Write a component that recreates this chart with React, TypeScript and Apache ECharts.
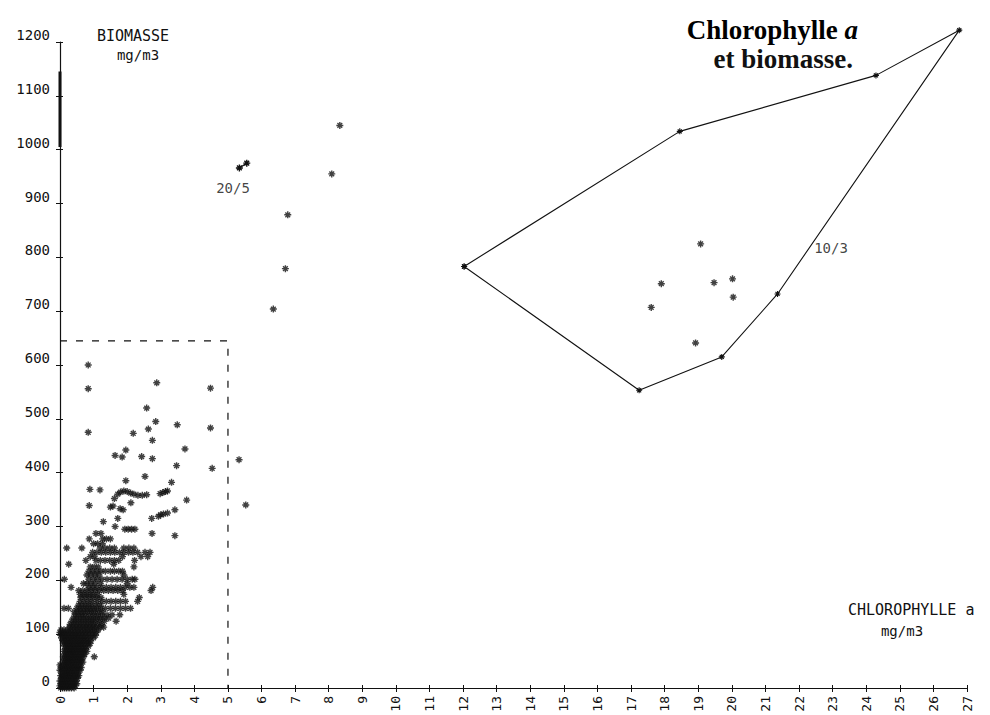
import React, { useEffect, useRef } from "react";
import * as echarts from "echarts";

// ---------- data ----------
const xMin = 0;
const xMax = 27;
const yMin = 0;
const yMax = 1200;

// dense cluster, stored as rows: [biomass, chlorophyll values]
const clusterRows: [number, number[]][] = [
  [0, [0.02, 0.08, 0.14, 0.2, 0.27, 0.34, 0.42]],
  [4, [0.0, 0.06, 0.12, 0.18, 0.24, 0.3, 0.37, 0.45]],
  [8, [0.03, 0.09, 0.15, 0.21, 0.28, 0.35, 0.42, 0.5]],
  [13, [0.0, 0.06, 0.12, 0.18, 0.25, 0.32, 0.4, 0.48]],
  [18, [0.04, 0.1, 0.16, 0.22, 0.29, 0.36, 0.44, 0.52]],
  [23, [0.02, 0.08, 0.14, 0.2, 0.27, 0.34, 0.42, 0.5, 0.56]],
  [28, [0.05, 0.11, 0.17, 0.24, 0.31, 0.38, 0.46, 0.54]],
  [33, [0.0, 0.07, 0.14, 0.21, 0.28, 0.35, 0.43, 0.51, 0.6]],
  [38, [0.04, 0.11, 0.18, 0.25, 0.32, 0.4, 0.48, 0.56, 0.63]],
  [43, [0.0, 0.08, 0.15, 0.22, 0.29, 0.36, 0.44, 0.52, 0.6]],
  [48, [0.1, 0.17, 0.24, 0.31, 0.38, 0.46, 0.54, 0.62, 0.68]],
  [53, [0.12, 0.19, 0.26, 0.33, 0.4, 0.48, 0.56, 0.64]],
  [58, [0.1, 0.17, 0.24, 0.31, 0.38, 0.45, 0.53, 0.61, 0.7, 1.02]],
  [63, [0.14, 0.21, 0.28, 0.35, 0.42, 0.5, 0.58, 0.66, 0.74]],
  [68, [0.12, 0.19, 0.26, 0.33, 0.4, 0.47, 0.55, 0.63, 0.71, 0.8]],
  [73, [0.16, 0.23, 0.3, 0.37, 0.44, 0.52, 0.6, 0.68, 0.76]],
  [78, [0.14, 0.21, 0.28, 0.35, 0.42, 0.5, 0.58, 0.66, 0.75, 0.85]],
  [83, [0.1, 0.18, 0.25, 0.32, 0.4, 0.48, 0.56, 0.64, 0.72, 0.82, 0.9]],
  [88, [0.08, 0.16, 0.24, 0.32, 0.4, 0.48, 0.56, 0.64, 0.72, 0.8, 0.9]],
  [93, [0.05, 0.13, 0.21, 0.29, 0.37, 0.45, 0.53, 0.62, 0.71, 0.8, 0.9, 1.0]],
  [98, [0.02, 0.1, 0.18, 0.26, 0.34, 0.42, 0.5, 0.58, 0.67, 0.76, 0.86, 0.96, 1.06]],
  [103, [0.0, 0.08, 0.16, 0.26, 0.36, 0.46, 0.56, 0.66, 0.76, 0.86, 0.96, 1.08]],
  [108, [0.03, 0.12, 0.22, 0.32, 0.42, 0.52, 0.62, 0.72, 0.82, 0.92, 1.02, 1.14]],
  [113, [0.28, 0.38, 0.48, 0.58, 0.68, 0.78, 0.88, 0.98, 1.08, 1.2, 1.3]],
  [118, [0.3, 0.4, 0.5, 0.6, 0.7, 0.8, 0.9, 1.0, 1.12, 1.24]],
  [124, [0.35, 0.45, 0.55, 0.65, 0.75, 0.85, 0.95, 1.05, 1.18, 1.32, 1.67]],
  [130, [0.4, 0.5, 0.6, 0.7, 0.8, 0.9, 1.0, 1.1, 1.2, 1.32, 1.45]],
  [136, [0.45, 0.55, 0.65, 0.75, 0.88, 1.0, 1.12, 1.25, 1.4, 1.55, 1.78]],
  [142, [0.42, 0.52, 0.62, 0.72, 0.82, 0.92, 1.02, 1.14, 1.26]],
  [148, [0.12, 0.25, 0.5, 0.6, 0.7, 0.8, 0.9, 1.0, 1.1, 1.22, 1.35, 1.5, 1.65, 1.8, 1.95, 2.1]],
  [154, [0.55, 0.65, 0.75, 0.85, 0.95, 1.08, 1.2]],
  [161, [0.6, 0.72, 0.84, 0.96, 1.1, 1.24, 1.38, 1.52, 1.66, 1.8, 1.95, 2.31]],
  [168, [0.62, 0.74, 0.86, 0.98, 1.1, 1.22, 2.36]],
  [174, [0.6, 0.7, 0.8, 0.9, 1.0, 1.12, 1.9]],
  [181, [0.56, 0.68, 0.8, 0.92, 1.04, 1.17, 1.3, 1.44, 1.58, 1.72, 1.86, 2.71]],
  [187, [0.33, 0.86, 0.98, 1.1, 1.24, 1.38, 1.52, 1.66, 1.8, 1.94, 2.08, 2.2, 2.76]],
  [194, [0.7, 0.8, 0.92, 1.04, 1.2, 2.0]],
  [202, [0.13, 0.86, 1.0, 1.12, 1.25, 1.4, 1.55, 1.7, 1.85, 2.0, 2.15, 2.23]],
  [210, [0.8, 0.92, 1.04, 1.16, 1.9]],
  [217, [0.86, 0.98, 1.1, 1.22, 1.35, 1.5, 1.62, 1.75, 1.86]],
  [225, [0.9, 1.02, 1.14, 2.2]],
  [230, [0.26, 1.6]],
  [237, [0.77, 1.07, 1.2, 1.34, 1.48, 1.62, 1.75, 2.22]],
  [244, [0.9, 1.02, 1.86, 2.41, 2.61]],
  [252, [0.97, 1.1, 1.23, 1.36, 1.5, 1.63, 1.77, 1.9, 2.04, 2.17, 2.31, 2.53, 2.68]],
  [260, [0.2, 0.65, 1.2, 1.34, 1.48, 1.62, 1.9, 2.05, 2.2]],
  [268, [1.0, 1.12, 1.26]],
  [277, [0.87, 1.27, 1.38, 1.5]],
  [287, [1.07, 1.22, 2.74]],
];

// scattered points of the low cloud (chlorophyll, biomass)
const scatterPoints: [number, number][] = [
  [0.84, 600], [0.84, 556], [0.84, 475], [2.88, 567], [4.48, 557], [2.58, 520],
  [2.85, 495], [3.49, 489], [4.48, 483], [2.63, 481], [2.18, 473], [2.75, 460],
  [1.96, 442], [3.72, 444], [1.64, 432], [1.85, 429], [2.43, 430], [2.75, 426],
  [3.47, 413], [4.53, 408], [5.33, 424], [2.53, 393], [1.96, 385], [3.32, 382],
  [0.89, 369], [1.19, 368], [1.62, 352], [1.72, 360], [1.8, 364], [1.9, 366],
  [2.0, 365], [2.1, 362], [2.2, 360], [2.32, 358], [2.45, 358], [2.58, 359],
  [2.98, 361], [3.06, 363], [3.14, 365], [3.2, 366], [0.87, 339], [1.5, 336],
  [1.58, 338], [1.79, 333], [1.88, 331], [2.11, 344], [3.77, 349], [5.53, 340],
  [3.42, 331], [1.29, 309], [1.72, 315], [2.93, 319], [3.0, 322], [3.08, 323],
  [3.2, 325], [2.73, 315], [1.64, 300], [1.93, 295], [2.03, 295], [2.13, 295],
  [2.23, 295], [3.42, 283],
];

// points between the two groups
const midPoints: [number, number][] = [
  [8.33, 1045], [8.09, 955], [6.78, 879], [6.71, 779], [6.35, 704],
];
const pair205: [number, number][] = [[5.34, 966], [5.56, 975]];

// 10/3 group: envelope and inner points
const envelope: [number, number][] = [
  [12.03, 783], [18.45, 1034], [24.29, 1138], [26.77, 1222],
  [21.36, 732], [19.7, 615], [17.24, 553], [12.03, 783],
];
const innerPoints: [number, number][] = [
  [19.07, 825], [17.9, 751], [19.47, 753], [20.02, 760], [20.04, 726],
  [17.6, 707], [18.92, 641],
];

// dashed frame around the low cloud
const frame: [number, number][] = [[0, 645], [5, 645], [5, 0]];

const dateLabels = [
  { name: "20/5", value: [5.15, 929] },
];
const dateLabelsRight = [
  { name: "10/3", value: [22.45, 818] },
];

const axisSmudge: [number, number][] = [[0, 1005], [0, 1145]];

// ---------- styles ----------
const INK = "#111111";
const MONO = "'DejaVu Sans Mono', monospace";
const SERIF = "'Liberation Serif', serif";
const STAR = "path://M0,5L10,5M5,0L5,10M1.6,1.6L8.4,8.4M8.4,1.6L1.6,8.4";

const GRID = { left: 60, top: 42, width: 907, height: 646 };

export default function App() {
  const ref = useRef<HTMLDivElement>(null);

  useEffect(() => {
    if (!ref.current) return;
    const chart = echarts.init(ref.current, null, { renderer: "svg" });

    const clusterData: [number, number][] = [];
    clusterRows.forEach(([y, xs]) => xs.forEach((x) => clusterData.push([x, y])));

    const starStyle = { color: INK, borderColor: INK, borderWidth: 1.4 };
    const tickLabel = { fontFamily: MONO, fontSize: 14, color: INK };
    const plain = (v: number) => String(v);

    const labelStyle = {
      show: true,
      formatter: (p: any) => p.name,
      fontFamily: MONO,
      fontSize: 14,
      color: INK,
    };

    chart.setOption({
      animation: false,
      backgroundColor: "#ffffff",
      grid: { ...GRID, containLabel: false },
      xAxis: [
        {
          type: "value",
          min: xMin,
          max: xMax,
          interval: 1,
          axisLine: { onZero: false, lineStyle: { color: INK, width: 1.2 } },
          axisTick: { length: 4, lineStyle: { color: INK } },
          axisLabel: { ...tickLabel, fontSize: 13, rotate: 90, margin: 8, formatter: plain },
          splitLine: { show: false },
        },
        {
          type: "value",
          position: "top",
          offset: -GRID.height,
          min: xMin,
          max: xMax,
          interval: 1,
          axisLine: { show: false, onZero: false },
          axisTick: { length: 3, lineStyle: { color: INK } },
          axisLabel: { show: false },
          splitLine: { show: false },
        },
      ],
      yAxis: [
        {
          type: "value",
          min: yMin,
          max: yMax,
          interval: 100,
          axisLine: { show: true, onZero: false, lineStyle: { color: INK, width: 1.2 } },
          axisTick: { show: true, length: 4, lineStyle: { color: INK } },
          axisLabel: { ...tickLabel, margin: 10, verticalAlign: "bottom", formatter: plain },
          splitLine: { show: false },
        },
        {
          type: "value",
          position: "right",
          offset: -GRID.width,
          min: yMin,
          max: yMax,
          interval: 100,
          axisLine: { show: false, onZero: false },
          axisTick: { show: true, length: 3, lineStyle: { color: INK } },
          axisLabel: { show: false },
          splitLine: { show: false },
        },
      ],
      series: [
        {
          type: "line",
          data: axisSmudge,
          symbol: "none",
          lineStyle: { color: INK, width: 3 },
          silent: true,
        },
        {
          type: "line",
          data: frame,
          symbol: "none",
          lineStyle: { color: INK, width: 1.2, type: [7, 9] },
          silent: true,
        },
        {
          type: "scatter",
          data: clusterData,
          symbol: STAR,
          symbolSize: 7,
          itemStyle: starStyle,
        },
        {
          type: "scatter",
          data: scatterPoints,
          symbol: STAR,
          symbolSize: 7,
          itemStyle: starStyle,
        },
        {
          type: "scatter",
          data: midPoints,
          symbol: STAR,
          symbolSize: 7,
          itemStyle: starStyle,
        },
        {
          type: "line",
          data: pair205,
          symbol: STAR,
          symbolSize: 7,
          showSymbol: true,
          itemStyle: starStyle,
          lineStyle: { color: INK, width: 1.3 },
        },
        {
          type: "line",
          data: envelope,
          clip: false,
          symbol: STAR,
          symbolSize: 6,
          showSymbol: true,
          itemStyle: { color: INK, borderColor: INK, borderWidth: 1.1 },
          lineStyle: { color: INK, width: 1.1 },
        },
        {
          type: "scatter",
          data: innerPoints,
          symbol: STAR,
          symbolSize: 7,
          itemStyle: starStyle,
        },
        {
          type: "scatter",
          data: dateLabels,
          symbolSize: 0,
          z: 10,
          label: { ...labelStyle, position: "inside" },
        },
        {
          type: "scatter",
          data: dateLabelsRight,
          symbolSize: 0,
          z: 10,
          label: { ...labelStyle, position: "inside", align: "left" },
        },
      ],
      graphic: [
        {
          type: "text",
          x: 133,
          y: 36,
          style: { text: "BIOMASSE", align: "center", verticalAlign: "middle", fontFamily: MONO, fontSize: 15, fill: INK },
        },
        {
          type: "text",
          x: 138,
          y: 55,
          style: { text: "mg/m3", align: "center", verticalAlign: "middle", fontFamily: MONO, fontSize: 14, fill: INK },
        },
        {
          type: "text",
          x: 848,
          y: 610,
          style: { text: "CHLOROPHYLLE a", align: "left", verticalAlign: "middle", fontFamily: MONO, fontSize: 15, fill: INK },
        },
        {
          type: "text",
          x: 902,
          y: 631,
          style: { text: "mg/m3", align: "center", verticalAlign: "middle", fontFamily: MONO, fontSize: 14, fill: INK },
        },
        {
          type: "text",
          x: 858,
          y: 30,
          style: {
            text: "{n|Chlorophylle }{i|a}",
            align: "right",
            verticalAlign: "middle",
            rich: {
              n: { fontFamily: SERIF, fontWeight: "bold", fontSize: 27, color: INK },
              i: { fontFamily: SERIF, fontStyle: "italic", fontWeight: "bold", fontSize: 27, color: INK },
            },
          },
        },
        {
          type: "text",
          x: 853,
          y: 59,
          style: {
            text: "et biomasse.",
            align: "right",
            verticalAlign: "middle",
            fontFamily: SERIF,
            fontWeight: "bold",
            fontSize: 27,
            fill: INK,
          },
        },
      ],
    });

    return () => chart.dispose();
  }, []);

  return <div ref={ref} style={{ width: 990, height: 715, position: "absolute", left: 0, top: 0 }} />;
}
